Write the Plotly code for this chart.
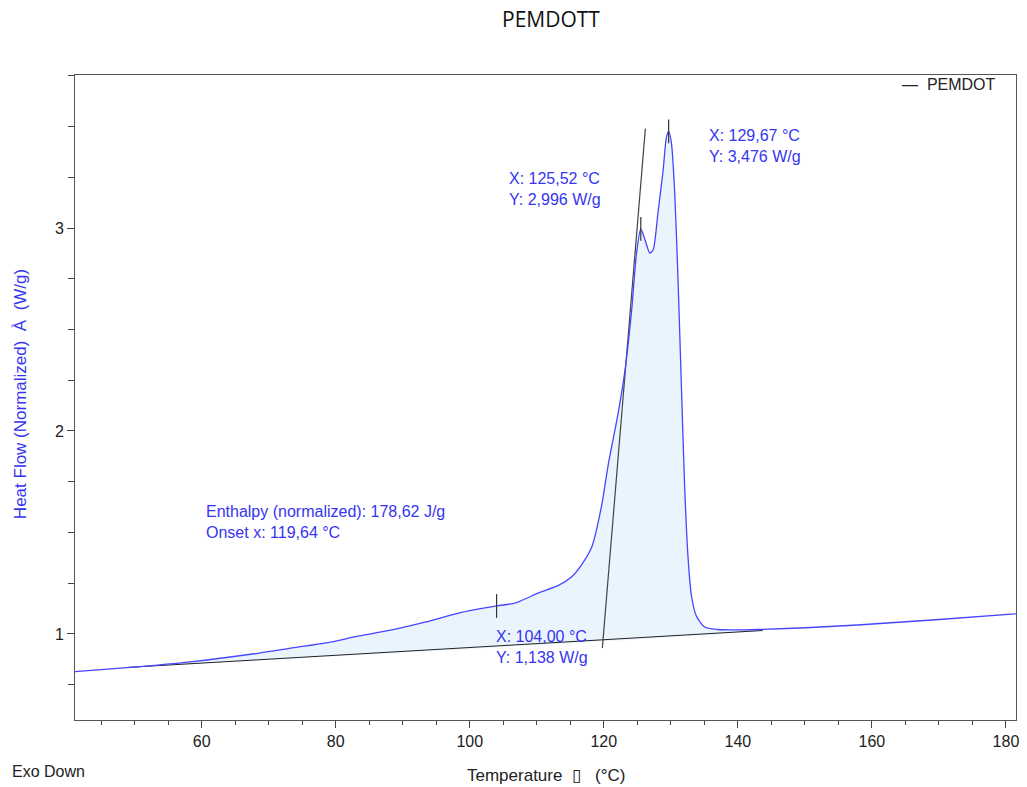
import plotly.graph_objects as go

# ---- data ----
temp = [41.11, 48.85, 58.66, 68.62, 73.53, 78.59, 83.49, 88.40, 93.46, 98.36,
        104.00, 106.84, 110.26, 113.23, 115.21, 116.70, 118.19, 119.67, 120.67,
        122.16, 123.15, 124.13, 124.88, 125.52, 126.13, 126.87, 127.36, 128.10,
        128.85, 129.34, 129.67, 130.08, 130.59, 131.08, 131.57, 132.07, 132.57,
        133.06, 133.80, 135.05, 137.03, 140.00, 142.97, 157.84, 181.34, 181.5]
heat = [0.814, 0.834, 0.864, 0.906, 0.931, 0.956, 0.990, 1.020, 1.059, 1.103,
        1.138, 1.153, 1.202, 1.239, 1.282, 1.342, 1.427, 1.632, 1.836,
        2.092, 2.296, 2.586, 2.876, 2.996, 2.944, 2.876, 2.893, 3.080,
        3.285, 3.447, 3.476, 3.421, 3.166, 2.739, 2.228, 1.717, 1.376,
        1.192, 1.089, 1.034, 1.022, 1.020, 1.022, 1.044, 1.099, 1.100]

baseline_x = [48.85, 143.72]
baseline_y = [0.835, 1.017]

onset_x = [119.78, 126.20]
onset_y = [0.930, 3.490]

mark_x = [104.00, 125.52, 129.67]
mark_y = [1.138, 2.996, 3.476]

x_major = [60, 80, 100, 120, 140, 160, 180]
y_major = [1, 2, 3]

labels = [
    (135.39, 3.406, "X: 129,67 °C<br>Y: 3,476 W/g"),
    (105.50, 3.190, "X: 125,52 °C<br>Y: 2,996 W/g"),
    (60.30, 1.554, "Enthalpy (normalized): 178,62 J/g<br>Onset x: 119,64 °C"),
    (103.57, 0.938, "X: 104,00 °C<br>Y: 1,138 W/g"),
]

BLUE_TXT = "#3535f0"
BLUE_LINE = "#4646ff"
FONT = "Liberation Sans, Arial, sans-serif"

fig = go.Figure()

# shaded area between curve and baseline
fx = [t for t in temp if baseline_x[0] <= t <= baseline_x[1]]
fy = [h for t, h in zip(temp, heat) if baseline_x[0] <= t <= baseline_x[1]]
fig.add_trace(go.Scatter(
    x=fx + baseline_x[::-1], y=fy + baseline_y[::-1],
    fill="toself", fillcolor="#EAF4FD", mode="lines",
    line=dict(width=0, shape="spline", smoothing=0.7), hoverinfo="skip", showlegend=False))

fig.add_trace(go.Scatter(x=baseline_x, y=baseline_y, mode="lines",
                         line=dict(color="#222222", width=1), showlegend=False))
fig.add_trace(go.Scatter(x=onset_x, y=onset_y, mode="lines",
                         line=dict(color="#444444", width=1.2), showlegend=False))
fig.add_trace(go.Scatter(x=temp, y=heat, mode="lines", name="PEMDOT",
                         line=dict(color=BLUE_LINE, width=1.3, shape="spline", smoothing=0.7),
                         showlegend=False))
fig.add_trace(go.Scatter(x=mark_x, y=mark_y, mode="markers",
                         marker=dict(symbol="line-ns-open", size=17, color="#333333",
                                     line=dict(color="#333333", width=1.2)),
                         showlegend=False))

for x, y, t in labels:
    fig.add_annotation(x=x, y=y, xref="x", yref="y", text=t, showarrow=False,
                       xanchor="left", yanchor="middle", align="left",
                       font=dict(family=FONT, size=16, color=BLUE_TXT))

# legend-like label
fig.add_annotation(x=0.877, y=0.9845, xref="paper", yref="paper",
                   text="—  PEMDOT", showarrow=False, xanchor="left", yanchor="middle",
                   font=dict(family=FONT, size=16, color="#222222"))
# axis titles
fig.add_annotation(x=(547 - 75) / 944, y=-0.0853, xref="paper", yref="paper",
                   text="Temperature  \u25af   (°C)", showarrow=False,
                   xanchor="center", yanchor="middle",
                   font=dict(family=FONT, size=17, color="#222222"))
fig.add_annotation(x=-0.0689, y=-0.0806, xref="paper", yref="paper",
                   text="Exo Down", showarrow=False,
                   xanchor="left", yanchor="middle",
                   font=dict(family=FONT, size=16, color="#222222"))
fig.add_annotation(x=-0.0583, y=(720 - 394) / 645, xref="paper", yref="paper",
                   text="Heat Flow (Normalized)  À  (W/g)", showarrow=False,
                   textangle=-90, xanchor="center", yanchor="middle",
                   font=dict(family=FONT, size=17, color=BLUE_TXT))

fig.update_layout(
    width=1027, height=787,
    margin=dict(l=75, r=8, t=75, b=67),
    paper_bgcolor="white", plot_bgcolor="white",
    title=dict(text="PEMDOTT", x=551 / 1027, xref="container", xanchor="center",
               y=1 - 20 / 787, yref="container", yanchor="middle",
               font=dict(family="Open Sans, sans-serif", size=21, color="#111111")),
    xaxis=dict(range=[41.1, 181.5], tickvals=x_major, ticks="outside", ticklen=7,
               tickcolor="#444", showgrid=False, zeroline=False,
               showline=True, linecolor="#555", linewidth=1, mirror=True,
               tickfont=dict(family=FONT, size=16, color="#222"),
               minor=dict(dtick=5, tick0=0, ticks="outside", ticklen=4, tickcolor="#444",
                          showgrid=False)),
    yaxis=dict(range=[0.576, 3.754], tickvals=y_major, ticks="outside", ticklen=7,
               tickcolor="#444", showgrid=False, zeroline=False,
               showline=True, linecolor="#555", linewidth=1, mirror=True,
               tickfont=dict(family=FONT, size=16, color="#222"),
               minor=dict(dtick=0.25, tick0=0, ticks="outside", ticklen=6, tickcolor="#444",
                          showgrid=False)),
)

fig.write_html("out.html")
